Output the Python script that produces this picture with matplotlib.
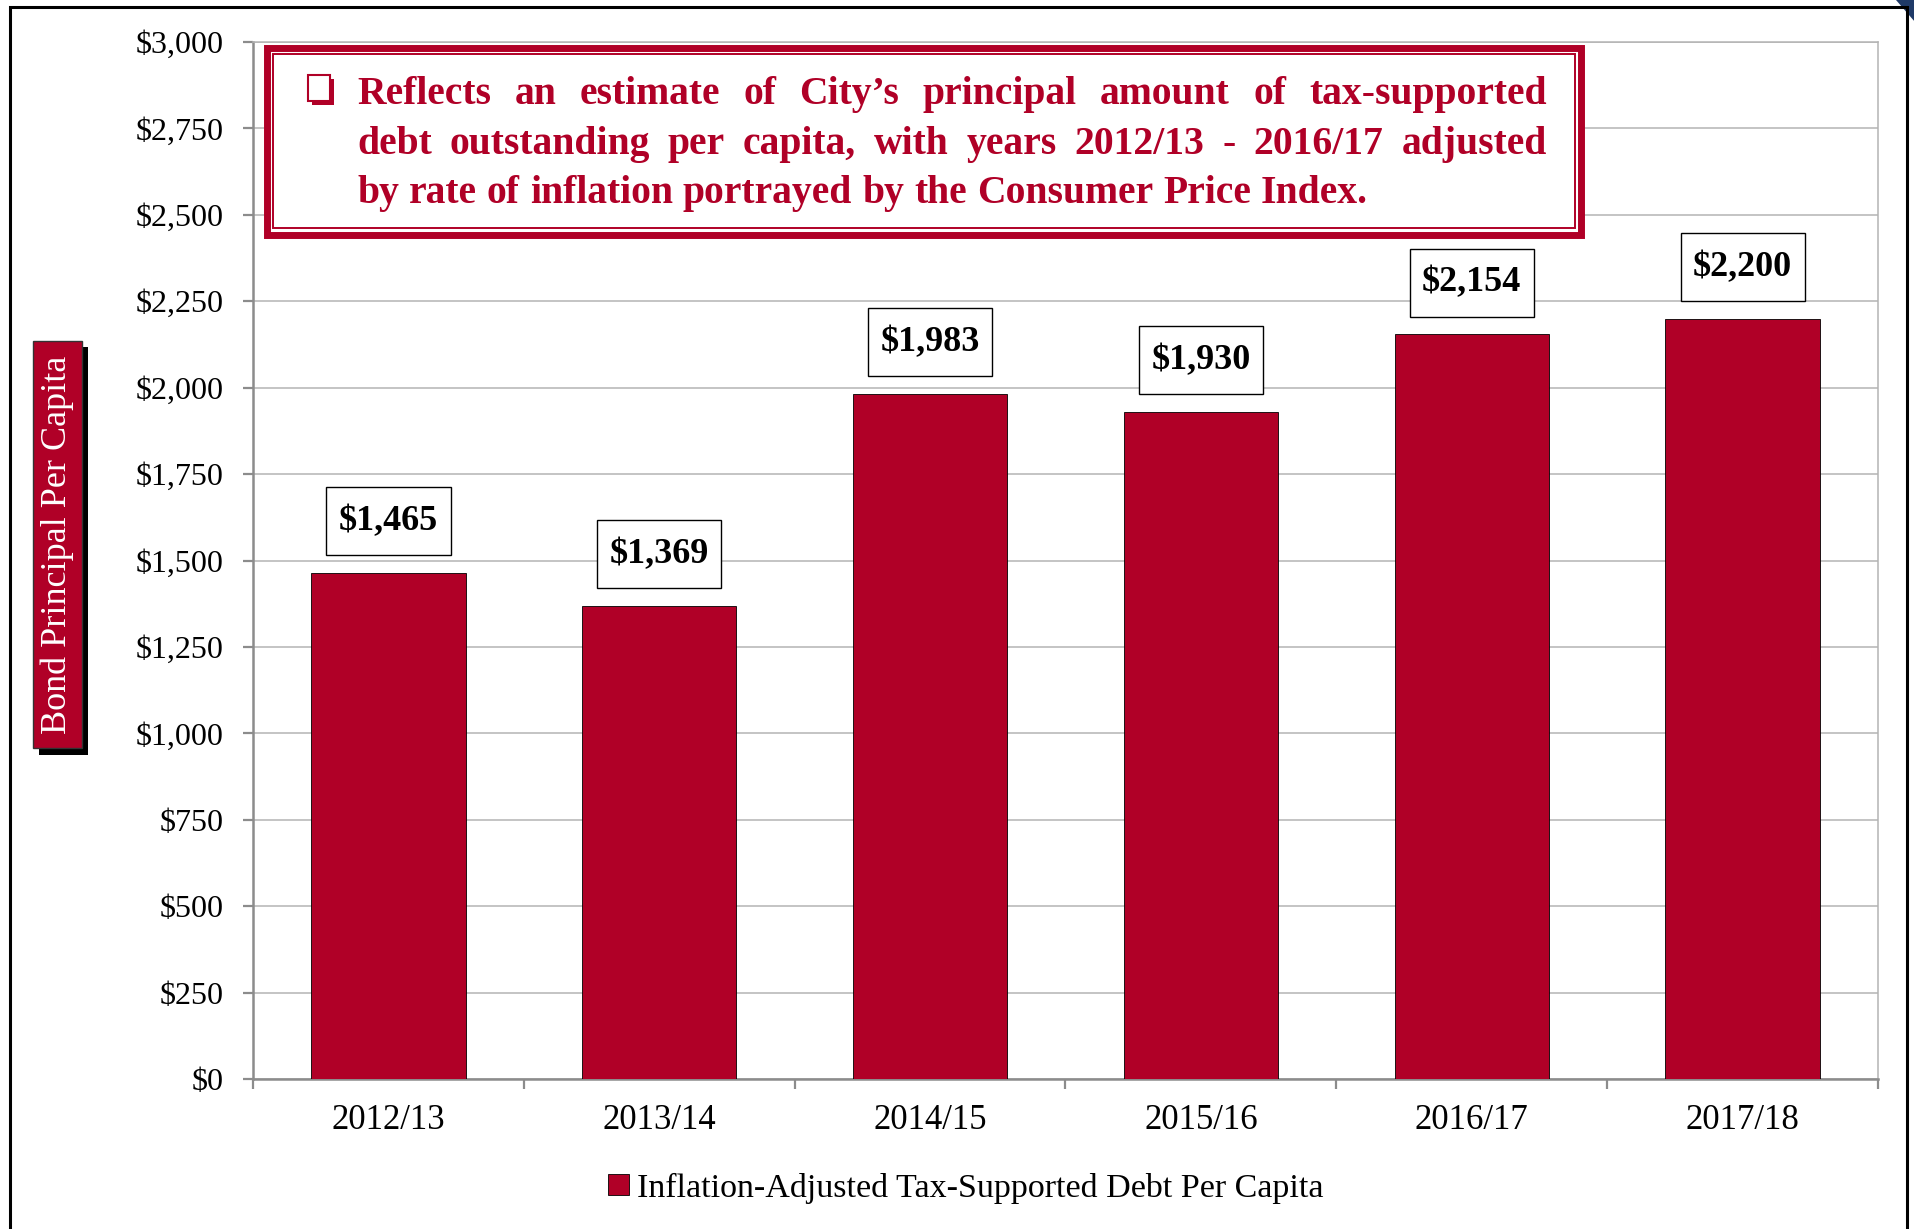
import matplotlib
matplotlib.use('Agg')
import matplotlib.pyplot as plt
from matplotlib.patches import Rectangle, Polygon
from matplotlib.transforms import IdentityTransform
from matplotlib.ticker import FuncFormatter

# data
years = ['2012/13', '2013/14', '2014/15', '2015/16', '2016/17', '2017/18']
debt_per_capita = [1465, 1369, 1983, 1930, 2154, 2200]
y_ticks = list(range(0, 3001, 250))
legend_label = 'Inflation-Adjusted Tax-Supported Debt Per Capita'
y_label = 'Bond Principal Per Capita'
note_lines = [
    'Reflects an estimate of City\u2019s principal amount of tax-supported',
    'debt outstanding per capita, with years 2012/13 - 2016/17 adjusted',
    'by rate of inflation portrayed by the Consumer Price Index.',
]

W, H = 1915, 1229
RED = '#b00027'
SERIF = ['Liberation Serif', 'DejaVu Serif']
GRID = '#b4b4b4'
AXIS = '#8c8c8c'


def fx(x):
    return x / W


def fy(y):
    return 1 - y / H


fig = plt.figure(figsize=(W / 100, H / 100), dpi=100)


def box(x0, y0, x1, y1, **kw):
    # rectangle given in top-left pixel coords of the picture
    r = Rectangle((x0 / W, 1 - y1 / H), (x1 - x0) / W, (y1 - y0) / H,
                  transform=fig.transFigure, **kw)
    fig.add_artist(r)
    return r


ax = fig.add_axes([fx(253), fy(1079), fx(1878) - fx(253), fy(42) - fy(1079)])

x = list(range(len(years)))
bars = ax.bar(x, debt_per_capita, width=0.57, color=RED, edgecolor='black',
              linewidth=0.6, zorder=3, label=legend_label)
ax.set_xlim(-0.5, len(years) - 0.5)
ax.set_ylim(0, 3000)
ax.set_yticks(y_ticks)
ax.yaxis.set_major_formatter(FuncFormatter(lambda v, p: f'${v:,.0f}'))
ax.set_xticks(x)
ax.set_xticklabels(years)
ax.set_xticks([i - 0.5 for i in range(len(years) + 1)], minor=True)
ax.tick_params(axis='x', which='major', length=0, pad=18, labelsize=25)
ax.tick_params(axis='x', which='minor', length=7, width=1.6, color=AXIS)
ax.tick_params(axis='y', length=7, width=1.6, color=AXIS, pad=14, labelsize=23)
for lab in ax.get_xticklabels() + ax.get_yticklabels():
    lab.set_fontfamily(SERIF)
ax.grid(axis='y', color=GRID, linewidth=1.1, zorder=0)
ax.set_axisbelow(True)
for s in ['left', 'bottom']:
    ax.spines[s].set_color(AXIS)
    ax.spines[s].set_linewidth(1.8)
for s in ['top', 'right']:
    ax.spines[s].set_color(GRID)
    ax.spines[s].set_linewidth(1.1)

renderer = fig.canvas.get_renderer()

# value boxes above the bars (box drawn by hand: taller than wide padding)
for xi, v in zip(x, debt_per_capita):
    t = ax.annotate(f'${v:,}', (xi, v), xytext=(0, 37), textcoords='offset points',
                    ha='center', va='center', fontsize=26, fontweight='bold',
                    family=SERIF, zorder=6)
    bb = t.get_window_extent(renderer)
    cx, cy = (bb.x0 + bb.x1) / 2, (bb.y0 + bb.y1) / 2
    bw, bh = bb.width + 25, 68
    ax.add_patch(Rectangle((cx - bw / 2, cy - bh / 2), bw, bh, transform=IdentityTransform(),
                           fc='white', ec='black', lw=1.0, zorder=5, clip_on=False))

# note box
box(266.5, 47.5, 1581.5, 234.5, fc='white', ec=RED, lw=5.0, zorder=2)
box(273, 54, 1575, 228, fc='none', ec=RED, lw=1.4, zorder=2)
box(312, 79, 334, 105, fc=RED, ec=RED, lw=0, zorder=3)
box(308, 75, 330, 101, fc='white', ec=RED, lw=1.5, zorder=3)

left, right = 357, 1547
baselines = [104, 154, 203]
for i, (line, yb) in enumerate(zip(note_lines, baselines)):
    words = line.split(' ')
    texts = [fig.text(0, fy(yb), w, ha='left', va='baseline', color=RED,
                      fontsize=28.5, fontweight='bold', family=SERIF, zorder=4)
             for w in words]
    widths = [t.get_window_extent(renderer).width for t in texts]
    if i < len(note_lines) - 1:
        gap = (right - left - sum(widths)) / (len(words) - 1)
    else:
        gap = 10
    xpos = left
    for t, w in zip(texts, widths):
        t.set_x(fx(xpos))
        xpos += w + gap

# y-axis label box with shadow
box(39, 347, 88, 755, fc='black', ec='black', lw=0, zorder=2)
box(33, 341, 82, 748, fc=RED, ec='#333333', lw=1.0, zorder=2)
fig.text(fx(57.5), fy(544.5), y_label, rotation=90, ha='center', va='center',
         color='white', fontsize=26, family=SERIF, zorder=4)

# outer frame
box(10, 7, 1907, 1260, fc='none', ec='black', lw=2.2, zorder=6)
fig.add_artist(Polygon([(fx(1896), fy(0)), (fx(1915), fy(0)), (fx(1915), fy(22))],
                       closed=True, transform=fig.transFigure, fc='#1f3a68', ec='none'))

fig.legend(handles=[bars], labels=[legend_label], loc='center',
           bbox_to_anchor=(fx(966), fy(1188)), frameon=False,
           prop={'family': SERIF, 'size': 24.5}, handlelength=0.6,
           handleheight=0.6, handletextpad=0.25)

fig.savefig('out.png', dpi=100)
